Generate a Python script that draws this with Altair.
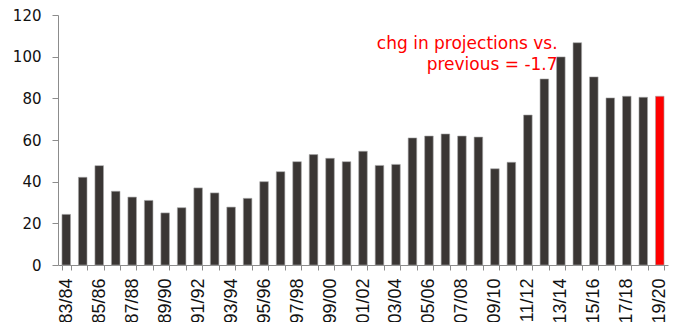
import altair as alt
import pandas as pd

seasons = ["83/84","84/85","85/86","86/87","87/88","88/89","89/90","90/91","91/92","92/93",
           "93/94","94/95","95/96","96/97","97/98","98/99","99/00","00/01","01/02","02/03",
           "03/04","04/05","05/06","06/07","07/08","08/09","09/10","10/11","11/12","12/13",
           "13/14","14/15","15/16","16/17","17/18","18/19","19/20"]
values = [24.3, 42.1, 47.7, 35.4, 32.6, 31.0, 25.0, 27.5, 37.0, 34.6,
          27.8, 32.0, 40.0, 44.8, 49.6, 53.0, 51.2, 49.6, 54.6, 47.8,
          48.3, 61.0, 61.9, 62.9, 61.9, 61.4, 46.2, 49.3, 72.0, 89.3,
          99.9, 106.7, 90.3, 80.2, 81.0, 80.5, 81.0]
highlight = ["19/20"]
annotation = "chg in projections vs.\nprevious = -1.7"
ann_x = ["13/14"]
ann_y = [103.5]

df = pd.DataFrame({"season": seasons, "value": values})
df["hl"] = df["season"].isin(highlight)

xscale = alt.Scale(domain=seasons, paddingInner=0.48, paddingOuter=0.24)
yscale = alt.Scale(domain=[0, 120])

bars = alt.Chart(df).mark_bar(stroke="#a8a8a8", strokeWidth=0.6).encode(
    x=alt.X("season:N", scale=xscale, sort=seasons,
            axis=alt.Axis(title=None, labelAngle=-90, labelAlign="right", labelBaseline="middle",
                          tickBand="extent", tickSize=5, labelPadding=8,
                          labelFont="Liberation Sans", labelFontSize=18, labelColor="#111",
                          domainColor="#8c8c8c", tickColor="#8c8c8c",
                          labelExpr="toNumber(substring(datum.value,0,2)) % 2 == 1 ? datum.value : ''")),
    y=alt.Y("value:Q", scale=yscale,
            axis=alt.Axis(title=None, values=[0,20,40,60,80,100,120], grid=False, tickSize=6,
                          labelPadding=11, labelFont="DejaVu Sans", labelFontSize=15,
                          labelColor="#111", domainColor="#8c8c8c", tickColor="#8c8c8c")),
    color=alt.Color("hl:N", scale=alt.Scale(domain=[False, True], range=["#3a3634", "#ff0000"]),
                    legend=None),
)

ann_df = pd.DataFrame({"season": ann_x, "value": ann_y, "text": [annotation]})
text = alt.Chart(ann_df).mark_text(color="#ff0000", align="right", baseline="alphabetic",
                                   font="DejaVu Sans", fontSize=17, lineBreak="\n",
                                   lineHeight=21, dx=1).encode(
    x=alt.X("season:N", scale=xscale, sort=seasons, bandPosition=0),
    y=alt.Y("value:Q", scale=yscale),
    text="text:N",
)

chart = (bars + text).properties(
    width=610, height=250,
    autosize=alt.AutoSizeParams(type="none"),
    padding={"left": 50, "top": 7, "right": 2, "bottom": 80},
).configure(background="white", view=alt.ViewConfig(stroke=None))

chart.save("out.html", embed_options={"renderer": "svg", "actions": False})
